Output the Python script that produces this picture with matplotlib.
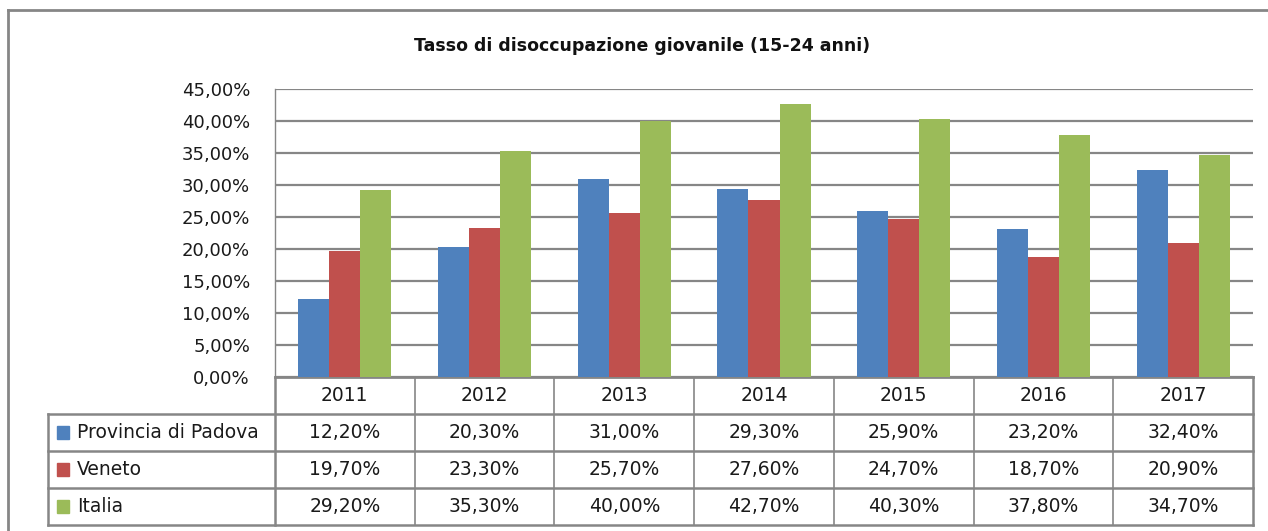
import matplotlib.pyplot as plt
from matplotlib.lines import Line2D
import numpy as np

# chart values
years = ["2011", "2012", "2013", "2014", "2015", "2016", "2017"]
series_names = ["Provincia di Padova", "Veneto", "Italia"]
padova = [12.2, 20.3, 31.0, 29.3, 25.9, 23.2, 32.4]
veneto = [19.7, 23.3, 25.7, 27.6, 24.7, 18.7, 20.9]
italia = [29.2, 35.3, 40.0, 42.7, 40.3, 37.8, 34.7]
colors = ["#4F81BD", "#C0504D", "#9BBB59"]
grid_color = "#868686"
text_color = "#1a1a1a"

plt.rcParams["font.family"] = ["DejaVu Sans"]

W, H = 1268, 531
fig = plt.figure(figsize=(W / 100, H / 100), dpi=100)


def fx(px):
    return px / W


def fy(py):
    return 1 - py / H


# outer chart border (cut off on right and bottom)
fig.add_artist(Line2D([fx(8), fx(8)], [fy(10), fy(H + 5)], color=grid_color, lw=2))
fig.add_artist(Line2D([fx(8), fx(W + 5)], [fy(10), fy(10)], color=grid_color, lw=2))

# plot area
left, right, top, bottom = 275, 1253, 89, 377
ax = fig.add_axes([fx(left), fy(bottom), fx(right - left), (bottom - top) / H])

x = np.arange(len(years))
bw = 1 / 4.5
for i, vals in enumerate([padova, veneto, italia]):
    ax.bar(x + (i - 1) * bw, vals, width=bw, color=colors[i], zorder=3)

ax.set_xlim(-0.5, len(years) - 0.5)
ax.set_ylim(0, 45)
ax.set_yticks(np.arange(0, 46, 5))
ax.set_yticklabels([f"{v:.2f}%".replace(".", ",") for v in np.arange(0, 46, 5)])
ax.set_xticks([])
ax.tick_params(axis="y", length=0, pad=18, labelsize=13, labelcolor=text_color)
ax.yaxis.grid(True, color=grid_color, lw=1.6)
for s in ["top", "right"]:
    ax.spines[s].set_visible(False)
ax.spines["left"].set_color(grid_color)
ax.spines["left"].set_linewidth(1)
ax.spines["bottom"].set_color(grid_color)
ax.spines["bottom"].set_linewidth(2)

# title
fig.text(fx(642), fy(46), "Tasso di disoccupazione giovanile (15-24 anni)",
         ha="center", va="center", fontsize=12.5, fontweight="bold", color="#111111")

# data table below the plot
tab_left, tab_bottom = 48, 525
ncat = len(years)
cat_w = (right - left) / ncat
tab = fig.add_axes([fx(tab_left), fy(tab_bottom), fx(right - tab_left), (tab_bottom - bottom) / H])
xl = -0.5 - (left - tab_left) / cat_w
tab.set_xlim(xl, ncat - 0.5)
tab.set_ylim(4, 0)
tab.axis("off")

lc = dict(color=grid_color, lw=1.8, clip_on=False)
# horizontal lines
for r in [1, 2, 3, 4]:
    tab.plot([xl, ncat - 0.5], [r, r], **lc)
# vertical lines
tab.plot([xl, xl], [1, 4], **lc)
for c in range(ncat + 1):
    tab.plot([c - 0.5, c - 0.5], [0, 4], color=grid_color,
             lw=1.8 if c in (0, ncat) else 1.2, clip_on=False)

fs = 13.5
for c, yr in enumerate(years):
    tab.text(c, 0.5, yr, ha="center", va="center", fontsize=fs, color=text_color)

key_w = 12 / cat_w
for r, (name, vals) in enumerate(zip(series_names, [padova, veneto, italia])):
    tab.add_patch(plt.Rectangle((xl + 9 / cat_w, r + 1.5 - 0.17), key_w, 0.34,
                                color=colors[r], clip_on=False))
    tab.text(xl + 29 / cat_w, r + 1.5, name, ha="left", va="center",
             fontsize=fs, color=text_color)
    for c, v in enumerate(vals):
        tab.text(c, r + 1.5, f"{v:.2f}%".replace(".", ","), ha="center", va="center",
                 fontsize=fs, color=text_color)

fig.savefig("out.png", dpi=100)
